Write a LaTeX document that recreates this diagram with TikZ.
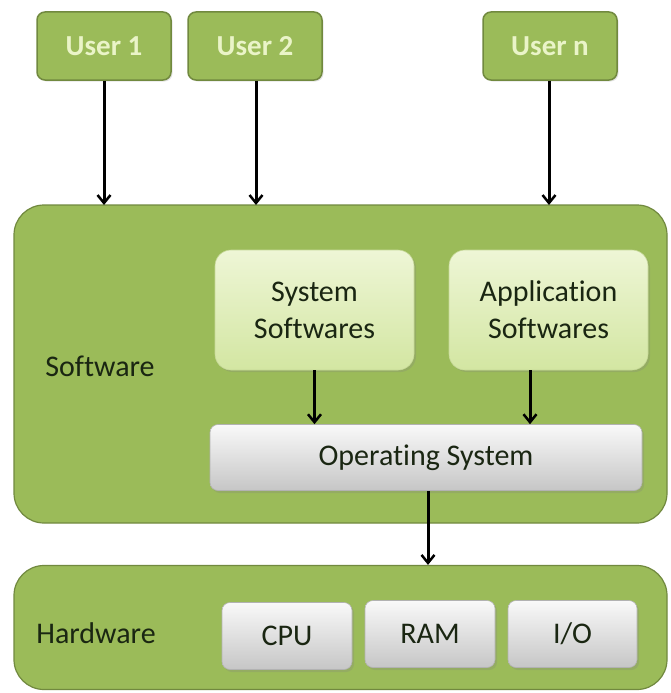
\documentclass[tikz,border=0pt]{standalone}
\usepackage{fontspec}
\setmainfont{Carlito}[Ligatures=NoCommon]
\usetikzlibrary{arrows.meta,shadows}
\definecolor{olive}{HTML}{9BBB59}
\definecolor{oliveborder}{HTML}{71893F}
\definecolor{usertext}{HTML}{EAF4C8}
\definecolor{lgtop}{HTML}{EEF6D6}
\definecolor{lgbot}{HTML}{D3E6A2}
\definecolor{gtop}{HTML}{F9F9F9}
\definecolor{gbot}{HTML}{C6C6C6}
\definecolor{darktext}{HTML}{1A2612}
\tikzset{
  big/.style={draw=oliveborder, line width=1.2pt, fill=olive, rounded corners=30pt},
  userbox/.style={draw=oliveborder, line width=1.5pt, fill=olive, rounded corners=8pt,
    minimum width=134pt, minimum height=68pt, inner sep=0pt,
    font=\fontsize{29}{35}\selectfont\bfseries, text=usertext,
    drop shadow={opacity=0.2, shadow xshift=1.5pt, shadow yshift=-1.5pt}},
  lgbox/.style={draw=lgbot!80!black!30!lgbot, line width=0.6pt, top color=lgtop, bottom color=lgbot,
    rounded corners=16pt, minimum width=199pt, minimum height=120pt, inner sep=0pt,
    align=center, font=\fontsize{30}{37}\selectfont, text=darktext,
    drop shadow={opacity=0.25, shadow xshift=2pt, shadow yshift=-2pt}},
  greybox/.style={draw=gray!60, line width=0.6pt, top color=gtop, bottom color=gbot,
    rounded corners=8pt, inner sep=0pt, font=\fontsize{30}{37}\selectfont, text=darktext,
    drop shadow={opacity=0.25, shadow xshift=2pt, shadow yshift=-2.5pt}},
  arr/.style={-{Straight Barb[length=8pt,width=13pt,line width=2.5pt]}, line width=3pt, draw=black},
  lbl/.style={font=\fontsize{30}{37}\selectfont, text=darktext, inner sep=0pt}
}
\begin{document}
\begin{tikzpicture}[x=1pt,y=-1pt]
\useasboundingbox (0,0) rectangle (670,693);
\fill[white] (0,0) rectangle (670,693);
% big containers
\node[big, minimum width=653pt, minimum height=318pt, inner sep=0pt] (sw) at (340.5,364) {};
\node[big, minimum width=653pt, minimum height=124pt, inner sep=0pt] (hw) at (340.5,627.5) {};
% users
\node[userbox] (u1) at (104,46) {User 1};
\node[userbox] (u2) at (255,46) {User 2};
\node[userbox] (un) at (550,46) {User n};
% labels
\node[lbl] (swl) at (100,366) {Software};
\node[lbl] (hwl) at (96,633) {Hardware};
% software boxes
\node[lgbox] (sys) at (314.5,310) {System\\Softwares};
\node[lgbox] (app) at (548.5,310) {Application\\Softwares};
\node[greybox, minimum width=432pt, minimum height=66pt] (os) at (426,457.5) {Operating System};
% hardware boxes
\node[greybox, minimum width=130pt, minimum height=67pt] (cpu) at (287,636) {CPU};
\node[greybox, minimum width=130pt, minimum height=67pt] (ram) at (430,634) {RAM};
\node[greybox, minimum width=129pt, minimum height=67pt] (io) at (572.5,634) {I/O};
% arrows
\coordinate (t1) at (104,205);
\coordinate (t2) at (256,205);
\coordinate (tn) at (549,205);
\draw[arr] (u1.south) -- (t1);
\draw[arr] (u2.south -| t2) -- (t2);
\draw[arr] (un.south -| tn) -- (tn);
\draw[arr] (sys.south) -- (sys.south |- os.north);
\draw[arr] (app.south -| 530,0) -- (530,0 |- os.north);
\draw[arr] (os.south -| 428,0) -- (428,0 |- hw.north);
\end{tikzpicture}
\end{document}
